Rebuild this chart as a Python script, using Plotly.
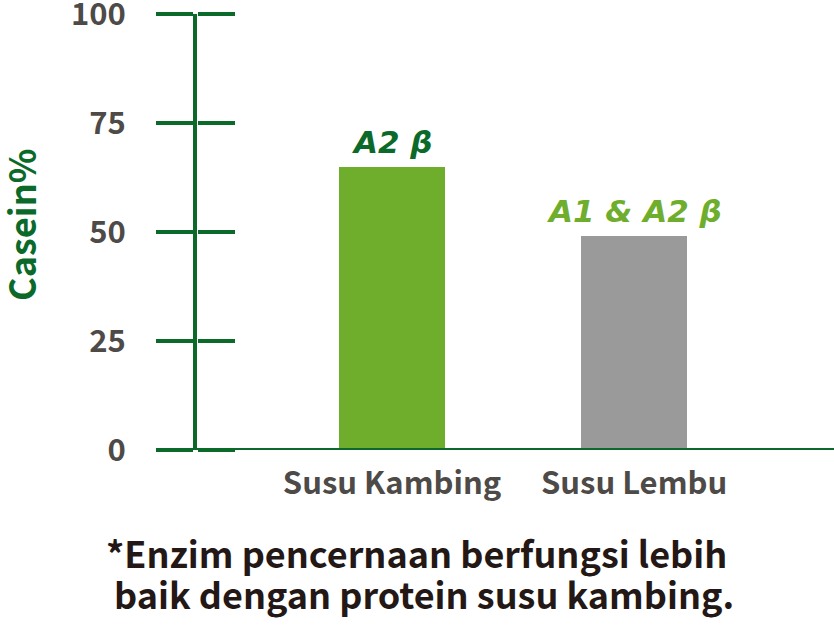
import plotly.graph_objects as go

# data
kategori = ["Susu Kambing", "Susu Lembu"]
casein = [65, 49]
label_bar = ["A2 β", "A1 & A2 β"]
warna_bar = ["#6fae2d", "#9a9a9a"]
warna_label = ["#0b6a2a", "#6fae2d"]
y_ticks = [0, 25, 50, 75, 100]
judul_y = "Casein%"
catatan = ["*Enzim pencernaan berfungsi lebih", "baik dengan protein susu kambing."]

HIJAU = "#0b6a2a"
ABU = "#4d4a48"
FONT = "Noto Sans CJK JP"

fig = go.Figure()

fig.add_trace(go.Bar(
    x=kategori,
    y=casein,
    width=0.44,
    marker=dict(color=warna_bar, line=dict(width=0)),
    hoverinfo="skip",
))

# dummy trace so the second axis (ticks to the right of the line) is drawn
fig.add_trace(go.Scatter(x=kategori, y=casein, yaxis="y2", mode="markers",
                         marker=dict(opacity=0), hoverinfo="skip", showlegend=False))

fig.update_layout(
    width=834, height=633,
    margin=dict(l=197, r=0, t=14, b=183),
    paper_bgcolor="white", plot_bgcolor="white",
    showlegend=False,
    bargap=0,
    xaxis=dict(
        range=[-0.806, 1.826],
        automargin=False,
        showgrid=False, zeroline=False, showline=False,
        ticks="",
        ticklabelstandoff=12,
        tickfont=dict(family=FONT, size=31, color=ABU, weight="bold"),
    ),
    yaxis=dict(
        range=[0, 100],
        automargin=False,
        tickvals=y_ticks,
        showgrid=False, zeroline=False,
        showline=True, linecolor=HIJAU, linewidth=4,
        ticks="outside", ticklen=37, tickwidth=4, tickcolor=HIJAU,
        ticklabelstandoff=24,
        ticklabeloverflow="allow",
        tickfont=dict(family=FONT, size=31, color=ABU, weight="bold"),
    ),
    yaxis2=dict(
        range=[0, 100],
        automargin=False,
        tickvals=y_ticks,
        overlaying="y", side="right", anchor="free", position=0,
        showgrid=False, zeroline=False, showline=False,
        ticks="outside", ticklen=37, tickwidth=4, tickcolor=HIJAU,
        showticklabels=False,
    ),
)

# y axis title as a rotated annotation (axis title can't sit this far out)
fig.add_annotation(
    xref="paper", yref="paper", x=-0.278, y=0.516, text=judul_y,
    xanchor="center", yanchor="middle",
    textangle=-90, showarrow=False,
    font=dict(family=FONT, size=36, color=HIJAU, weight="bold"),
)

# labels above the bars
for k, v, t, c in zip(kategori, casein, label_bar, warna_label):
    fig.add_annotation(
        x=k, y=v, text=t, showarrow=False, yanchor="bottom", yshift=5,
        font=dict(family="DejaVu Sans", size=31, color=c, style="italic", weight="bold"),
    )

# x axis line, extended left past the y axis
fig.add_shape(type="line", xref="paper", yref="y", x0=-0.058, x1=1, y0=0, y1=0,
              line=dict(color=HIJAU, width=4))

# footnote, one annotation per line
for i, baris in enumerate(catatan):
    fig.add_annotation(
        xref="paper", yref="paper", x=0.344 + 0.012 * i, y=-0.298 - 0.094 * i,
        text=baris, showarrow=False,
        font=dict(family=FONT, size=36, color="#231815", weight="bold"),
    )

# page body has an 8px default margin; drop it so the figure sits at 0,0
fig.write_html("out.html", config={"displayModeBar": False},
               post_script="document.body.style.margin='0';")
